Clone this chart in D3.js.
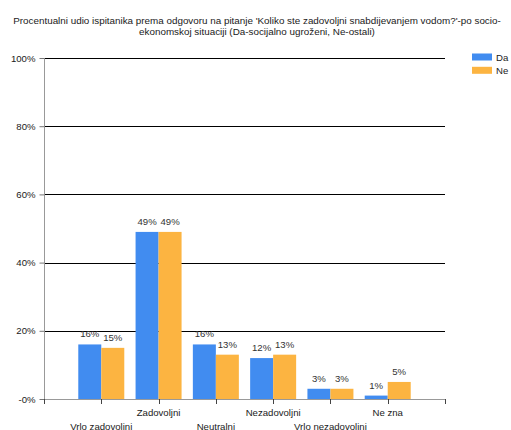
<!DOCTYPE html>
<html><head><meta charset="utf-8">
<script src="https://cdn.jsdelivr.net/npm/d3@7"></script>
<style>body{margin:0;background:#fff}svg{display:block;font-family:"Liberation Sans",Arial,sans-serif}</style>
</head><body><svg id="c" width="511" height="430"></svg>
<script>
const categories = ["Vrlo zadovoljni","Zadovoljni","Neutralni","Nezadovoljni","Vrlo nezadovoljni","Ne zna"];
const seriesNames = ["Da","Ne"];
const valuesDa = [16,49,16,12,3,1];
const valuesNe = [15,49,13,13,3,5];
const yTicks = [0,20,40,60,80,100];
const yTickLabels = ["-0%","20%","40%","60%","80%","100%"];
const titleLines = ["Procentualni udio ispitanika prema odgovoru na pitanje 'Koliko ste zadovoljni snabdijevanjem vodom?'-po socio-","ekonomskoj situaciji (Da-socijalno ugroženi, Ne-ostali)"];
const colors = ["#418CF0","#FCB441"];

const svg = d3.select("#c");
const pL=44,pR=445,pT=58,pB=399;
const x = d3.scalePoint().domain(categories).range([pL,pR]).padding(1);
const y = d3.scaleLinear().domain([0,100]).range([pB,pT]);
const bw = 23;

// title
svg.append("g").selectAll("text").data(titleLines).join("text")
  .attr("x",257).attr("y",(d,i)=>24+i*10.5).attr("text-anchor","middle")
  .attr("font-size","9.85px").attr("fill","#1a1a1a").text(d=>d);

// gridlines
svg.append("g").selectAll("line").data(yTicks.filter(d=>d>0)).join("line")
  .attr("x1",pL).attr("x2",pR).attr("y1",d=>Math.round(y(d))+0.5).attr("y2",d=>Math.round(y(d))+0.5)
  .attr("stroke","#000").attr("stroke-width",1);

// y axis
const ya = svg.append("g").attr("transform",`translate(${pL+0.5},0)`)
  .call(d3.axisLeft(y).tickValues(yTicks).tickSize(5).tickPadding(4).tickFormat((d,i)=>yTickLabels[i]));
ya.select(".domain").attr("stroke","#999").attr("d",`M0,${pT}V${pB}`);
ya.selectAll(".tick line").attr("stroke","#777");
ya.selectAll(".tick text").attr("font-size","9.6px").attr("fill","#1a1a1a").attr("font-family","Liberation Sans, Arial, sans-serif");

// bars
const series = [valuesDa, valuesNe];
series.forEach((vals,s)=>{
  const g = svg.append("g");
  g.selectAll("rect").data(vals).join("rect")
    .attr("x",(d,i)=>x(categories[i]) - (s===0?bw:0))
    .attr("y",d=>y(d)).attr("width",bw).attr("height",d=>pB-y(d))
    .attr("fill",colors[s]);
  g.selectAll("text").data(vals).join("text")
    .attr("x",(d,i)=>x(categories[i]) + (s===0?-bw/2:bw/2))
    .attr("y",d=>y(d)-7).attr("text-anchor","middle")
    .attr("font-size","9.6px").attr("fill","#333").text(d=>d+"%");
});

// x axis
const xs = d3.range(8).map(i=>pL + i*(pR-pL)/7);
const xg = svg.append("g");
xg.append("line").attr("x1",pL).attr("x2",pR).attr("y1",pB+0.5).attr("y2",pB+0.5).attr("stroke","#999");
xg.selectAll("line.t").data(xs).join("line").attr("class","t")
  .attr("x1",d=>Math.round(d)+0.5).attr("x2",d=>Math.round(d)+0.5).attr("y1",pB).attr("y2",pB+5).attr("stroke","#444");
xg.selectAll("text").data(categories).join("text")
  .attr("x",d=>x(d)).attr("y",(d,i)=>i%2===0?429.5:415.5).attr("text-anchor","middle")
  .attr("font-size","9.6px").attr("fill","#1a1a1a").text(d=>d);

// legend
const lg = svg.append("g");
seriesNames.forEach((n,i)=>{
  lg.append("rect").attr("x",472).attr("y",53.5+i*13.3).attr("width",20).attr("height",7).attr("fill",colors[i]);
  lg.append("text").attr("x",496).attr("y",60.5+i*13.3).attr("font-size","9.6px").attr("fill","#1a1a1a").text(n);
});
</script></body></html>
